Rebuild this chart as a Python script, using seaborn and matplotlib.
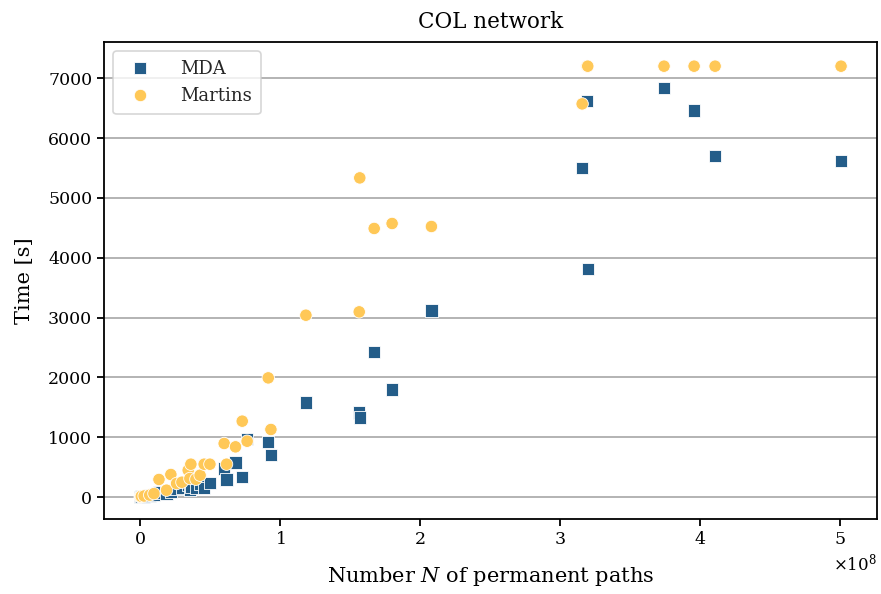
import matplotlib
matplotlib.use("Agg")
import matplotlib.pyplot as plt
import seaborn as sns
import pandas as pd
from matplotlib.ticker import ScalarFormatter

# Number of permanent paths (in units of 1e8) for each instance
paths_e8 = [0.002, 0.005, 0.01, 0.03, 0.07, 0.10, 0.136, 0.19, 0.221, 0.262,
            0.30, 0.345, 0.357, 0.364, 0.40, 0.43, 0.459, 0.50, 0.602, 0.619,
            0.683, 0.731, 0.766, 0.917, 0.936, 1.186, 1.567, 1.571, 1.674,
            1.802, 2.083, 3.16, 3.195, 3.20, 3.745, 3.96, 4.11, 5.01]

# Run times in seconds
time_mda = [3, 5, 8, 12, 30, 40, 80, 62, 90, 145,
            160, 200, 117, 180, 150, 229, 150, 239, 479, 296,
            579, 339, 969, 924, 702, 1582, 1415, 1331, 2428,
            1799, 3119, 5501, 6615, 3809, 6838, 6460, 5697, 5613]
time_martins = [5, 10, 15, 20, 35, 60, 296, 117, 379, 229,
                250, 451, 312, 551, 300, 367, 551, 551, 897, 551,
                841, 1270, 935, 1993, 1131, 3040, 3096, 5334, 4489,
                4572, 4522, 6570, 7200, 7200, 7200, 7200, 7200, 7200]

methods = ["MDA", "Martins"]
colors = {"MDA": "#245d89", "Martins": "#ffc857"}
markers = {"MDA": "s", "Martins": "o"}

n_abs = [p * 1e8 for p in paths_e8]
df = pd.concat([
    pd.DataFrame({"N": n_abs, "Time": time_mda, "Method": "MDA"}),
    pd.DataFrame({"N": n_abs, "Time": time_martins, "Method": "Martins"}),
], ignore_index=True)

sns.set_theme(style="white")
plt.rcParams["font.family"] = ["DejaVu Serif"]
plt.rcParams["mathtext.fontset"] = "dejavuserif"

fig, ax = plt.subplots(figsize=(8.81, 5.94), dpi=100)

sns.scatterplot(data=df, x="N", y="Time", hue="Method", style="Method",
                hue_order=methods, style_order=methods,
                palette=colors, markers=markers, s=80, linewidth=0.6,
                edgecolor="white", ax=ax)

ax.set_xlim(-0.257e8, 5.264e8)
ax.set_ylim(-367, 7601)
ax.set_yticks(range(0, 7001, 1000))
ax.set_xticks([i * 1e8 for i in range(6)])

fmt = ScalarFormatter(useMathText=True)
fmt.set_powerlimits((-3, 3))
ax.xaxis.set_major_formatter(fmt)
ax.xaxis.get_offset_text().set_fontsize(12)

ax.yaxis.grid(True, color="#b3b3b3", linewidth=1.4)
ax.set_axisbelow(True)
for sp in ax.spines.values():
    sp.set_color("black")
    sp.set_linewidth(1.3)

ax.tick_params(axis="both", which="major", direction="out", length=5,
               width=1.3, color="black", labelsize=12.5, bottom=True, left=True,
               labelcolor="black")

ax.set_xlabel("Number $N$ of permanent paths", fontsize=15, color="black",
              labelpad=12)
ax.set_ylabel("Time [s]", fontsize=15, color="black", labelpad=10)
ax.set_title("COL network", fontsize=15.5, color="black", pad=10)

leg = ax.legend(loc="upper left", fontsize=13, frameon=True, fancybox=True,
                edgecolor="#cccccc", framealpha=0.8, handletextpad=1.2,
                borderpad=0.5, markerscale=1.0)
leg.get_frame().set_linewidth(1.2)

fig.subplots_adjust(left=0.118, right=0.995, top=0.929, bottom=0.126)
fig.savefig("out.png", dpi=100)
